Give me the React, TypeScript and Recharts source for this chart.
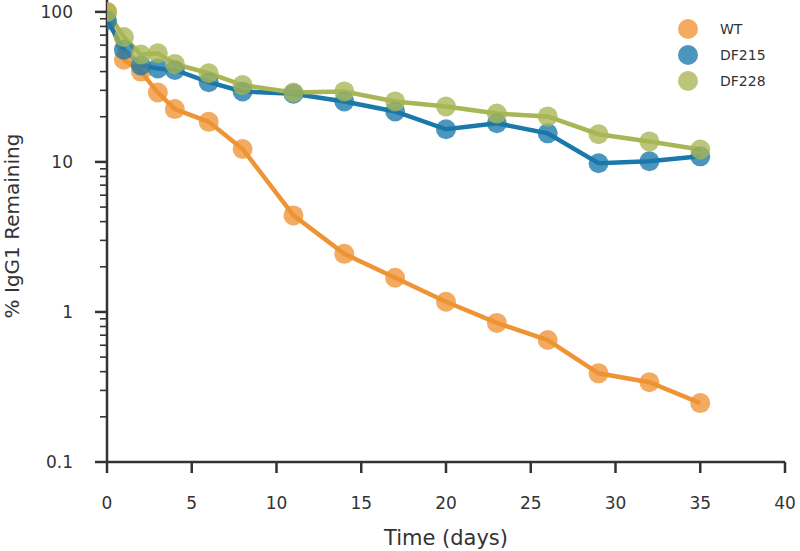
import React from 'react';
import { LineChart, Line, XAxis, YAxis } from 'recharts';

const days = [0, 1, 2, 3, 4, 6, 8, 11, 14, 17, 20, 23, 26, 29, 32, 35];
const wt = [100, 48, 40, 29, 22.5, 18.5, 12.2, 4.4, 2.44, 1.69, 1.17, 0.845, 0.65, 0.39, 0.34, 0.247];
const df215 = [88, 56, 44, 42, 41, 34, 29.5, 28.5, 25.3, 21.7, 16.5, 18.1, 15.5, 9.8, 10.1, 10.9];
const df228 = [100, 68, 52, 53, 45, 39, 32.5, 29, 29.5, 25.3, 23.4, 21, 20.1, 15.3, 13.7, 12.1];

const seriesNames = ['WT', 'DF215', 'DF228'];
const seriesColors = ['#EE9434', '#1A78AB', '#A8B655'];

const xTicks = [0, 5, 10, 15, 20, 25, 30, 35, 40];
const yMajor = [0.1, 1, 10, 100];
const yMinor = [0.2, 0.3, 0.4, 0.5, 0.6, 0.7, 0.8, 0.9, 2, 3, 4, 5, 6, 7, 8, 9, 20, 30, 40, 50, 60, 70, 80, 90];
const yTicks = [...yMajor, ...yMinor].sort((a, b) => a - b);

const data = days.map((d, i) => ({ day: d, WT: wt[i], DF215: df215[i], DF228: df228[i] }));

const FONT = 'DejaVu Sans, sans-serif';
const AX = '#333333';

const YTick = (props: any) => {
  const { x, y, payload } = props;
  const major = yMajor.includes(payload.value);
  return (
    <g>
      <line x1={x - (major ? 12 : 7)} x2={x} y1={y} y2={y} stroke={AX} strokeWidth={major ? 2.5 : 1.6} />
      {major && (
        <text x={x - 34} y={y} dy="0.36em" textAnchor="end" fontFamily={FONT} fontSize={17} fill={AX}>
          {String(payload.value)}
        </text>
      )}
    </g>
  );
};

const XTick = (props: any) => {
  const { x, y, payload } = props;
  return (
    <text x={x} y={y} dy="0.71em" textAnchor="middle" fontFamily={FONT} fontSize={17} fill={AX}>
      {String(payload.value)}
    </text>
  );
};

const XTitle = (props: any) => {
  const vb = props.viewBox || {};
  return (
    <text x={vb.x + vb.width / 2} y={vb.y + 83} textAnchor="middle" fontFamily={FONT} fontSize={21} fill={AX}>
      Time (days)
    </text>
  );
};

const YTitle = (props: any) => {
  const vb = props.viewBox || {};
  const cx = vb.x + 19;
  const cy = vb.y + vb.height / 2 - 5;
  return (
    <text x={cx} y={cy} textAnchor="middle" transform={`rotate(-90, ${cx}, ${cy})`} fontFamily={FONT} fontSize={20} fill={AX}>
      % IgG1 Remaining
    </text>
  );
};

const LegendBox = () => (
  <svg width={120} height={80} style={{ position: 'absolute', left: 676, top: 18 }}>
    {seriesNames.map((n, i) => (
      <g key={n}>
        <circle cx={12} cy={11 + 26 * i} r={10} fill={seriesColors[i]} fillOpacity={0.78} />
        <text x={44} y={11 + 26 * i} dy="0.36em" fontFamily={FONT} fontSize={14} fill={AX}>
          {n}
        </text>
      </g>
    ))}
  </svg>
);

export default function App() {
  return (
    <div style={{ position: 'absolute', left: 0, top: 0, width: 800, height: 551, background: '#fff' }}>
      <LineChart width={800} height={551} data={data} margin={{ top: 0, right: 15, bottom: 0, left: 0 }}>
        <XAxis
          dataKey="day"
          type="number"
          domain={[0, 40]}
          allowDataOverflow
          ticks={xTicks}
          interval={0}
          height={89}
          tickSize={11}
          tickMargin={24}
          tickLine={{ stroke: AX, strokeWidth: 2.5 }}
          axisLine={{ stroke: AX, strokeWidth: 2.5 }}
          tick={<XTick />}
          label={<XTitle />}
        />
        <YAxis
          type="number"
          scale="log"
          domain={[0.1, 120]}
          allowDataOverflow
          ticks={yTicks}
          interval={0}
          width={107}
          tickSize={0}
          tickMargin={0}
          tickLine={false}
          axisLine={{ stroke: AX, strokeWidth: 2.5 }}
          tick={<YTick />}
          label={<YTitle />}
        />
        {seriesNames.map((n, i) => (
          <Line
            key={n}
            dataKey={n}
            type="linear"
            stroke={seriesColors[i]}
            strokeWidth={4.5}
            dot={{ r: 10, fill: seriesColors[i], fillOpacity: 0.78, stroke: 'none', clipDot: true }}
            activeDot={false}
            isAnimationActive={false}
          />
        ))}
      </LineChart>
      <LegendBox />
    </div>
  );
}
